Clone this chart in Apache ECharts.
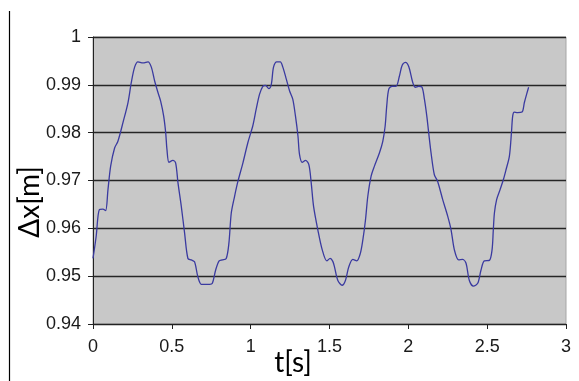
<!DOCTYPE html>
<html>
<head>
<meta charset="utf-8">
<script src="https://cdn.jsdelivr.net/npm/echarts@6/dist/echarts.min.js"></script>
<style>html,body{margin:0;padding:0;background:#fff}#c{width:579px;height:381px}</style>
</head>
<body>
<div id="c"></div>
<script>
var xTicks = [0, 0.5, 1, 1.5, 2, 2.5, 3];
var yTicks = [0.94, 0.95, 0.96, 0.97, 0.98, 0.99, 1];
var tValues = [0.000,0.020,0.040,0.063,0.080,0.095,0.112,0.137,0.158,0.190,0.222,0.243,0.264,0.285,0.317,0.349,0.370,0.391,0.412,0.429,0.448,0.461,0.469,0.482,0.507,0.524,0.539,0.560,0.581,0.602,0.624,0.644,0.665,0.687,0.719,0.740,0.757,0.778,0.800,0.820,0.845,0.862,0.877,0.898,0.919,0.951,0.982,1.014,1.035,1.056,1.077,1.094,1.115,1.131,1.145,1.166,1.188,1.204,1.226,1.247,1.267,1.284,1.300,1.310,1.327,1.348,1.369,1.384,1.399,1.426,1.454,1.483,1.504,1.521,1.532,1.553,1.580,1.601,1.622,1.648,1.673,1.695,1.711,1.728,1.743,1.764,1.785,1.817,1.838,1.853,1.863,1.876,1.897,1.922,1.944,1.961,1.982,2.003,2.028,2.045,2.066,2.087,2.102,2.117,2.129,2.144,2.165,2.186,2.218,2.250,2.271,2.292,2.319,2.345,2.366,2.387,2.413,2.440,2.461,2.482,2.514,2.531,2.539,2.546,2.560,2.582,2.603,2.620,2.641,2.654,2.662,2.672,2.693,2.721,2.736,2.750,2.763];
var dxValues = [0.9537,0.9583,0.9639,0.9640,0.9637,0.9681,0.9730,0.9768,0.9782,0.9821,0.9863,0.9905,0.9937,0.9948,0.9946,0.9948,0.9937,0.9908,0.9884,0.9866,0.9835,0.9800,0.9765,0.9738,0.9742,0.9737,0.9695,0.9646,0.9590,0.9537,0.9534,0.9530,0.9499,0.9483,0.9483,0.9483,0.9485,0.9513,0.9532,0.9534,0.9537,0.9569,0.9632,0.9667,0.9698,0.9737,0.9779,0.9815,0.9849,0.9880,0.9897,0.9899,0.9892,0.9901,0.9937,0.9948,0.9948,0.9937,0.9912,0.9887,0.9870,0.9835,0.9793,0.9754,0.9738,0.9742,0.9733,0.9695,0.9646,0.9597,0.9555,0.9532,0.9537,0.9531,0.9519,0.9491,0.9481,0.9491,0.9519,0.9535,0.9532,0.9547,0.9575,0.9617,0.9667,0.9709,0.9730,0.9758,0.9782,0.9814,0.9856,0.9891,0.9897,0.9897,0.9919,0.9941,0.9947,0.9938,0.9905,0.9895,0.9897,0.9895,0.9870,0.9835,0.9800,0.9758,0.9712,0.9698,0.9660,0.9625,0.9597,0.9555,0.9534,0.9535,0.9527,0.9491,0.9479,0.9485,0.9513,0.9532,0.9533,0.9555,0.9597,0.9632,0.9660,0.9681,0.9702,0.9723,0.9751,0.9800,0.9835,0.9843,0.9842,0.9843,0.9863,0.9880,0.9895];

var data = tValues.map(function (t, i) { return [t, dxValues[i]]; });
var fmt = function (v) { return String(+(+v).toFixed(2)); };

var chart = echarts.init(document.getElementById('c'), null, {renderer: 'canvas'});
chart.setOption({
  animation: false,
  backgroundColor: '#ffffff',
  grid: {
    left: 93, right: 13, top: 37, bottom: 57,
    show: true, backgroundColor: '#c8c8c8', borderColor: '#a6a6a6', borderWidth: 1
  },
  xAxis: {
    type: 'value', min: xTicks[0], max: xTicks[xTicks.length - 1], interval: 0.5,
    axisLine: {show: true, lineStyle: {color: '#222', width: 1}},
    axisTick: {show: true, length: 5, lineStyle: {color: '#222'}},
    splitLine: {show: false},
    axisLabel: {margin: 14, color: '#1a1a1a', fontFamily: 'Liberation Sans', fontSize: 18, formatter: fmt}
  },
  yAxis: {
    type: 'value', min: yTicks[0], max: yTicks[yTicks.length - 1], interval: 0.01,
    axisLine: {show: true, lineStyle: {color: '#222', width: 1}},
    axisTick: {show: true, length: 5, lineStyle: {color: '#222'}},
    splitLine: {show: true, lineStyle: {color: '#262626', width: 1.3}},
    axisLabel: {margin: 12, color: '#1a1a1a', fontFamily: 'Liberation Sans', fontSize: 18, formatter: fmt}
  },
  series: [{
    type: 'line', data: data, symbol: 'none', smooth: 0.3,
    lineStyle: {color: '#3a3aa0', width: 1.3}
  }],
  graphic: [
    {type: 'line', shape: {x1: 9.5, y1: 11, x2: 9.5, y2: 381}, style: {stroke: '#000', lineWidth: 1.2}},
    {type: 'text', x: 30, y: 202, rotation: Math.PI / 2,
     style: {text: 'Δx[m]', font: '28px Lato', fill: '#000', align: 'center', verticalAlign: 'middle'}},
    {type: 'text', x: 293, y: 363,
     style: {text: 't[s]', font: '28px Lato', fill: '#000', align: 'center', verticalAlign: 'middle'}}
  ]
});
</script>
</body>
</html>
